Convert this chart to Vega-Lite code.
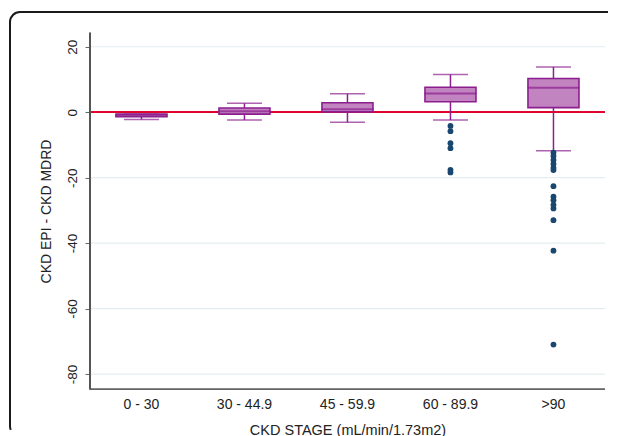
{
  "$schema": "https://vega.github.io/schema/vega-lite/v6.json",
  "width": 611,
  "height": 424,
  "autosize": "none",
  "padding": {"left": 10, "top": 12, "right": 0, "bottom": 0},
  "background": "white",
  "datasets": {
    "boxes": [
      {"stage": "0 - 30", "lower": -2.2, "q1": -1.4, "median": -1.0, "q3": -0.6, "upper": -0.6},
      {"stage": "30 - 44.9", "lower": -2.4, "q1": -0.6, "median": 0.3, "q3": 1.3, "upper": 2.7},
      {"stage": "45 - 59.9", "lower": -3.1, "q1": 0.1, "median": 0.9, "q3": 2.9, "upper": 5.6},
      {"stage": "60 - 89.9", "lower": -2.4, "q1": 3.2, "median": 5.7, "q3": 7.6, "upper": 11.5},
      {"stage": ">90", "lower": -11.8, "q1": 1.4, "median": 7.5, "q3": 10.3, "upper": 13.8}
    ],
    "outliers": [
      {"stage": "60 - 89.9", "value": -4.2},
      {"stage": "60 - 89.9", "value": -5.8},
      {"stage": "60 - 89.9", "value": -9.5},
      {"stage": "60 - 89.9", "value": -11.0},
      {"stage": "60 - 89.9", "value": -17.6},
      {"stage": "60 - 89.9", "value": -18.4},
      {"stage": ">90", "value": -12.4},
      {"stage": ">90", "value": -13.4},
      {"stage": ">90", "value": -14.6},
      {"stage": ">90", "value": -15.8},
      {"stage": ">90", "value": -17.0},
      {"stage": ">90", "value": -17.7},
      {"stage": ">90", "value": -22.6},
      {"stage": ">90", "value": -25.8},
      {"stage": ">90", "value": -26.9},
      {"stage": ">90", "value": -28.3},
      {"stage": ">90", "value": -29.4},
      {"stage": ">90", "value": -33.0},
      {"stage": ">90", "value": -42.3},
      {"stage": ">90", "value": -71.0}
    ],
    "grid": [{"g": 20}, {"g": -20}, {"g": -40}, {"g": -60}, {"g": -80}]
  },
  "layer": [
    {
      "data": {"name": "grid"},
      "mark": {"type": "rule", "color": "#e4eef0", "strokeWidth": 1.2},
      "encoding": {
        "y": {
          "field": "g", "type": "quantitative",
          "scale": {"domain": [-98.93, 30.61], "nice": false, "zero": false},
          "axis": {
            "values": [20, 0, -20, -40, -60, -80],
            "offset": -80,
            "domain": false,
            "grid": false,
            "ticks": true,
            "tickSize": 5,
            "tickColor": "#666666",
            "labelAngle": -90,
            "labelAlign": "center",
            "labelBaseline": "bottom",
            "labelPadding": 6,
            "labelFontSize": 13.5,
            "labelColor": "#222222",
            "labelExpr": "toString(datum.value)",
            "title": "CKD EPI - CKD MDRD",
            "titleFontSize": 14,
            "titleFontWeight": "normal",
            "titleColor": "#222222",
            "titleAngle": -90,
            "titleAlign": "center",
            "titleBaseline": "bottom",
            "titleX": -37,
            "titleY": 199
          }
        },
        "x": {
          "datum": "0 - 30", "type": "nominal", "bandPosition": 0,
          "scale": {
            "type": "band",
            "domain": ["0 - 30", "30 - 44.9", "45 - 59.9", "60 - 89.9", ">90"],
            "paddingInner": 0,
            "paddingOuter": 0.466,
            "align": 0.833
          },
          "axis": {
            "offset": -47,
            "domain": false,
            "ticks": false,
            "grid": false,
            "labelAngle": 0,
            "labelPadding": 8,
            "labelFontSize": 14,
            "labelColor": "#222222",
            "title": "CKD STAGE (mL/min/1.73m2)",
            "titleFontSize": 14.5,
            "titleFontWeight": "normal",
            "titleColor": "#222222",
            "titleX": 337.5,
            "titleY": 45,
            "titleBaseline": "alphabetic",
            "titleAlign": "center"
          }
        },
        "x2": {"datum": ">90", "bandPosition": 1}
      }
    },
    {
      "data": {"name": "grid"},
      "mark": {"type": "rule", "color": "#e0002a", "strokeWidth": 1.5},
      "encoding": {
        "y": {"datum": 0, "type": "quantitative"},
        "x": {"datum": "0 - 30", "type": "nominal", "bandPosition": 0},
        "x2": {"datum": ">90", "bandPosition": 1}
      }
    },
    {
      "data": {"name": "grid"},
      "mark": {"type": "rule", "color": "#666666", "strokeWidth": 1.2},
      "encoding": {
        "y": {"datum": -84.66, "type": "quantitative"},
        "x": {"datum": "0 - 30", "type": "nominal", "bandPosition": 0},
        "x2": {"datum": ">90", "bandPosition": 1}
      }
    },
    {
      "data": {"name": "grid"},
      "mark": {"type": "rule", "color": "#555555", "strokeWidth": 1.2},
      "encoding": {
        "x": {"datum": "0 - 30", "type": "nominal", "bandPosition": 0},
        "y": {"datum": 24.29, "type": "quantitative"},
        "y2": {"datum": -84.66}
      }
    },
    {
      "data": {"name": "boxes"},
      "mark": {"type": "rule", "color": "#8c1f8e", "strokeWidth": 1.5},
      "encoding": {
        "x": {"field": "stage", "type": "nominal"},
        "y": {"field": "lower", "type": "quantitative"},
        "y2": {"field": "q1"}
      }
    },
    {
      "data": {"name": "boxes"},
      "mark": {"type": "rule", "color": "#8c1f8e", "strokeWidth": 1.5},
      "encoding": {
        "x": {"field": "stage", "type": "nominal"},
        "y": {"field": "q3", "type": "quantitative"},
        "y2": {"field": "upper"}
      }
    },
    {
      "data": {"name": "boxes"},
      "mark": {"type": "bar", "size": 51, "fill": "#c283c1", "stroke": "#8c1f8e", "strokeWidth": 1.6},
      "encoding": {
        "x": {"field": "stage", "type": "nominal"},
        "y": {"field": "q1", "type": "quantitative"},
        "y2": {"field": "q3"}
      }
    },
    {
      "data": {"name": "boxes"},
      "mark": {"type": "tick", "size": 52, "thickness": 2, "color": "#8c1f8e"},
      "encoding": {
        "x": {"field": "stage", "type": "nominal"},
        "y": {"field": "median", "type": "quantitative"}
      }
    },
    {
      "data": {"name": "boxes"},
      "mark": {"type": "tick", "size": 35, "thickness": 1.5, "color": "#8c1f8e"},
      "encoding": {
        "x": {"field": "stage", "type": "nominal"},
        "y": {"field": "lower", "type": "quantitative"}
      }
    },
    {
      "data": {"name": "boxes"},
      "mark": {"type": "tick", "size": 35, "thickness": 1.5, "color": "#8c1f8e"},
      "encoding": {
        "x": {"field": "stage", "type": "nominal"},
        "y": {"field": "upper", "type": "quantitative"}
      }
    },
    {
      "data": {"name": "outliers"},
      "mark": {"type": "circle", "size": 34, "color": "#1a476f", "opacity": 1},
      "encoding": {
        "x": {"field": "stage", "type": "nominal"},
        "y": {"field": "value", "type": "quantitative"}
      }
    }
  ],
  "config": {
    "font": "Liberation Sans",
    "view": {
      "stroke": "#1a1a1a",
      "strokeWidth": 2,
      "cornerRadius": 10,
      "strokeDash": [588, 1041, 470, 100]
    },
    "axis": {"labelFont": "Liberation Sans", "titleFont": "Liberation Sans"}
  }
}
